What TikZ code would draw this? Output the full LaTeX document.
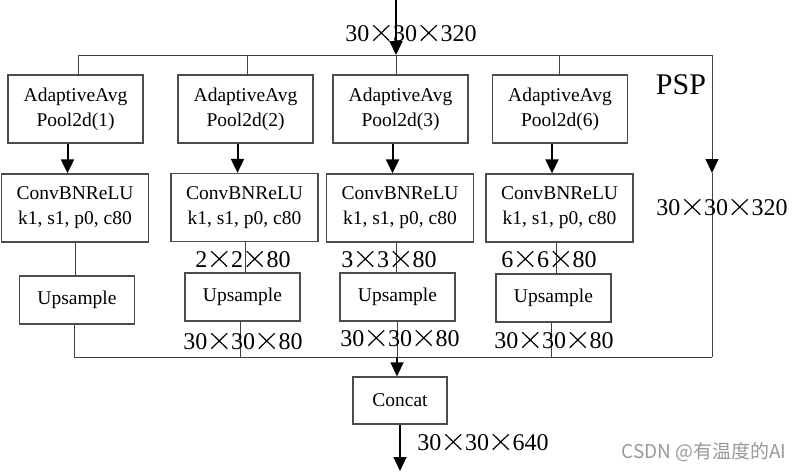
\documentclass[tikz,border=0pt]{standalone}
\usepackage{fontspec}
\setmainfont{Liberation Serif}
\newfontfamily\cjk{Noto Sans CJK SC}
\usetikzlibrary{arrows.meta}
\newcommand{\tm}{\tikz[x=1em,y=1em,baseline=0pt]{\path (0,0) (0.98,0);
  \draw[line width=0.05em,black] (0.16,0.02) -- (0.82,0.66) (0.16,0.66) -- (0.82,0.02);}}
\begin{document}
\begin{tikzpicture}[x=1pt,y=-1pt,
  box/.style={draw=black!70,line width=1.3pt,inner sep=0pt,align=center,
    font=\fontsize{19.5}{25}\selectfont},
  pool/.style={box,minimum width=135pt,minimum height=68pt},
  conv/.style={box,minimum width=147pt,minimum height=68pt},
  upbox/.style={box,minimum width=115pt,minimum height=48pt},
  ln/.style={draw=black!75,line width=1pt},
  tip/.style={-{Triangle[length=14pt,width=13pt,fill=black,color=black]}},
  arr/.style={draw=black,line width=2pt,tip},
  arrthin/.style={draw=black,line width=1.3pt,tip},
  dim/.style={inner sep=0pt,font=\fontsize{24}{28}\selectfont}]
\useasboundingbox (0,0) rectangle (802,471);
\fill[white] (0,0) rectangle (802,471);

% boxes
\node[pool] (pool1) at (75.5,109) {AdaptiveAvg\\Pool2d(1)};
\node[pool] (pool2) at (245.5,109) {AdaptiveAvg\\Pool2d(2)};
\node[pool] (pool3) at (400.5,109) {AdaptiveAvg\\Pool2d(3)};
\node[pool] (pool4) at (560,109) {AdaptiveAvg\\Pool2d(6)};
\node[conv] (conv1) at (75,208) {ConvBNReLU\\k1, s1, p0, c80};
\node[conv] (conv2) at (244.5,207.5) {ConvBNReLU\\k1, s1, p0, c80};
\node[conv] (conv3) at (400,208) {ConvBNReLU\\k1, s1, p0, c80};
\node[conv] (conv4) at (559.5,208) {ConvBNReLU\\k1, s1, p0, c80};
\node[upbox] (up1) at (77,300) {Upsample};
\node[upbox] (up2) at (242.5,297) {Upsample};
\node[upbox] (up3) at (397.5,297) {Upsample};
\node[upbox] (up4) at (553.5,298) {Upsample};
\node[box,minimum width=94pt,minimum height=47pt] (concat) at (400,400.5) {Concat};

% coordinates
\coordinate (in) at (396,0);
\coordinate (b1) at (78,55);
\coordinate (b2) at (247,55);
\coordinate (b3) at (396,55);
\coordinate (b4) at (559,55);
\coordinate (br) at (712,55);
\coordinate (rm) at (712,173);
\coordinate (d1) at (74,357);
\coordinate (d2) at (240,357);
\coordinate (d3) at (397,357);
\coordinate (d4) at (551,357);
\coordinate (dr) at (712,357);
\coordinate (out) at (400,471);

% top bus
\draw[ln] (b1) -- (br);
\foreach \i in {1,2,3,4} \draw[ln] (b\i) -- (b\i |- pool\i.north);
\draw[arr] (in) -- (b3);
\node[dim] (lin) at (411,33) {30\tm30\tm320};
\node[font=\fontsize{30}{34}\selectfont,inner sep=0pt] (psp) at (681,85) {PSP};

% right skip
\draw[ln,tip] (br) -- (rm);
\draw[ln] (rm) -- (dr);
\node[dim] (lr) at (722,207) {30\tm30\tm320};

% pool -> conv
\foreach \i in {1,2,3,4}
  \draw[arr] ([xshift=-8pt]pool\i.south) -- ([xshift=-8pt]pool\i.south |- conv\i.north);

% conv -> upsample
\draw[ln] (conv1.south -| 75,0) -- (up1.north -| 75,0);
\draw[ln] (conv2.south -| 245,0) -- (up2.north -| 245,0);
\draw[ln] (conv3.south -| 396,0) -- (up3.north -| 396,0);
\draw[ln] (conv4.south -| 556,0) -- (up4.north -| 556,0);
\node[dim] (l2) at (243,259) {2\tm2\tm80};
\node[dim] (l3) at (389,259) {3\tm3\tm80};
\node[dim] (l6) at (549,259) {6\tm6\tm80};

% upsample -> bottom bus
\draw[ln] (up1.south -| d1) -- (d1);
\draw[ln] (up2.south -| d2) -- (d2);
\draw[ln] (up3.south -| d3) -- (d3);
\draw[ln] (up4.south -| d4) -- (d4);
\draw[ln] (d1) -- (dr);
\node[dim] (m1) at (243,341) {30\tm30\tm80};
\node[dim] (m2) at (400,338) {30\tm30\tm80};
\node[dim] (m3) at (554,340) {30\tm30\tm80};

% concat
\draw[arrthin] (d3) -- (d3 |- concat.north);
\draw[arrthin] (concat.south) -- (out);
\node[dim] (lo) at (483,442) {30\tm30\tm640};

% watermark
\node[font=\cjk\fontsize{19}{21}\selectfont,text=black!40,inner sep=0pt] (wm) at (704,452) {CSDN @有温度的AI};
\end{tikzpicture}
\end{document}
